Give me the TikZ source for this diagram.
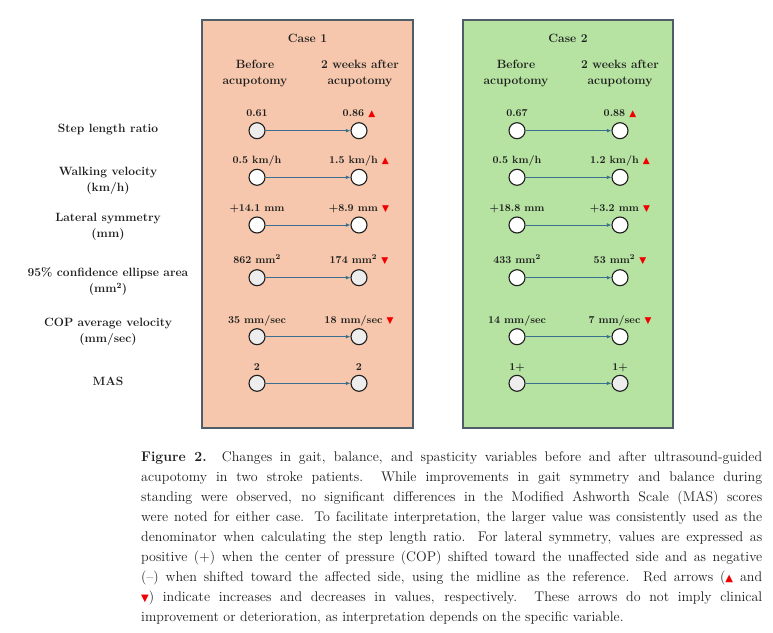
\documentclass[tikz,border=0pt]{standalone}
\usepackage{fontspec}
\newfontfamily\symf{DejaVu Sans}
\usetikzlibrary{arrows.meta}
\definecolor{peach}{HTML}{F6C7AC}
\definecolor{mint}{HTML}{B6E3A1}
\definecolor{framec}{HTML}{4F5D68}
\definecolor{arrc}{HTML}{3A6F8F}
\definecolor{cgray}{HTML}{EDEDED}
\definecolor{ink}{HTML}{1E1E1E}
\definecolor{trired}{HTML}{F00000}
\newcommand{\incr}{\hspace{0.4em}{\symf\fontsize{9}{9}\selectfont\color{trired}▲}}
\newcommand{\decr}{\hspace{0.4em}{\symf\fontsize{9}{9}\selectfont\color{trired}▼}}
\newcommand{\captri}[1]{{\symf\fontsize{10}{10}\selectfont\color{trired}#1}}
\begin{document}
\begin{tikzpicture}[x=1pt,y=-1pt,
  panel/.style={draw=framec,line width=1.5pt},
  dot/.style={circle,draw=ink,line width=1.1pt,minimum size=16pt,inner sep=0pt},
  wdot/.style={dot,fill=white},
  gdot/.style={dot,fill=cgray},
  link/.style={draw=arrc,line width=0.9pt,-{Latex[length=4.5pt,width=3.8pt]}},
  val/.style={font=\fontsize{10.5}{12}\selectfont\bfseries,text=ink,anchor=base,inner sep=0pt},
  hdr/.style={font=\fontsize{12}{16}\selectfont\bfseries,align=center,text=ink,inner sep=0pt},
  captext/.style={font=\fontsize{14}{20}\selectfont,anchor=base west,inner sep=0pt,text=ink}]
\useasboundingbox (0,0) rectangle (773,632);
\fill[white] (0,0) rectangle (773,632);
% panels
\path[panel,fill=peach] (202,20) rectangle (413,428);
\path[panel,fill=mint] (463,20) rectangle (673,428);
% headers
\node[hdr,anchor=base] (case1) at (307.5,42.6) {Case 1};
\node[hdr,anchor=base] (case2) at (568,42.6) {Case 2};
\node[hdr] (h1b) at (255,73.5) {Before\\acupotomy};
\node[hdr] (h1a) at (360,73.5) {2 weeks after\\acupotomy};
\node[hdr] (h2b) at (516,73.5) {Before\\acupotomy};
\node[hdr] (h2a) at (620,73.5) {2 weeks after\\acupotomy};
% row labels
\node[hdr,anchor=base] (l1) at (108,132.3) {Step length ratio};
\node[hdr] (l2) at (108,181) {Walking velocity\\(km/h)};
\node[hdr] (l3) at (108,226.5) {Lateral symmetry\\(mm)};
\node[hdr] (l4) at (108,281.5) {95\% confidence ellipse area\\(mm\textsuperscript{2})};
\node[hdr] (l5) at (108,332) {COP average velocity\\(mm/sec)};
\node[hdr,anchor=base] (l6) at (108,385) {MAS};
% case 1 circles
\node[gdot] (a1) at (257,130.7) {};
\node[wdot] (b1) at (359,130.7) {};
\node[wdot] (a2) at (257,177.3) {};
\node[wdot] (b2) at (359,177.3) {};
\node[wdot] (a3) at (257,225) {};
\node[wdot] (b3) at (359,225) {};
\node[gdot] (a4) at (257,277.7) {};
\node[gdot] (b4) at (359,277.7) {};
\node[gdot] (a5) at (257,336.7) {};
\node[gdot] (b5) at (359,336.7) {};
\node[gdot] (a6) at (257,383.3) {};
\node[gdot] (b6) at (359,383.3) {};
% case 2 circles
\node[wdot] (c1) at (517,130.7) {};
\node[wdot] (d1) at (620,130.7) {};
\node[wdot] (c2) at (517,177.3) {};
\node[wdot] (d2) at (620,177.3) {};
\node[wdot] (c3) at (517,225) {};
\node[wdot] (d3) at (620,225) {};
\node[wdot] (c4) at (517,277.7) {};
\node[wdot] (d4) at (620,277.7) {};
\node[wdot] (c5) at (517,336.7) {};
\node[wdot] (d5) at (620,336.7) {};
\node[gdot] (c6) at (517,383.3) {};
\node[gdot] (d6) at (620,383.3) {};
% connectors
\foreach \i in {1,...,6}{
  \draw[link] (a\i) -- (b\i);
  \draw[link] (c\i) -- (d\i);
}
% case 1 values
\node[val] (va1) at (257,116.4) {0.61};
\node[val] (vb1) at (359,116.4) {0.86\incr};
\node[val] (va2) at (257,163.4) {0.5 km/h};
\node[val] (vb2) at (359,163.4) {1.5 km/h\incr};
\node[val] (va3) at (257,211) {+14.1 mm};
\node[val] (vb3) at (359,211) {+8.9 mm\decr};
\node[val] (va4) at (257,263.7) {862 mm\textsuperscript{2}};
\node[val] (vb4) at (359,263.7) {174 mm\textsuperscript{2}\decr};
\node[val] (va5) at (257,323) {35 mm/sec};
\node[val] (vb5) at (359,323) {18 mm/sec\decr};
\node[val] (va6) at (257,370.4) {2};
\node[val] (vb6) at (359,370.4) {2};
% case 2 values
\node[val] (vc1) at (517,116.4) {0.67};
\node[val] (vd1) at (620,116.4) {0.88\incr};
\node[val] (vc2) at (517,163.4) {0.5 km/h};
\node[val] (vd2) at (620,163.4) {1.2 km/h\incr};
\node[val] (vc3) at (517,211) {+18.8 mm};
\node[val] (vd3) at (620,211) {+3.2 mm\decr};
\node[val] (vc4) at (517,263.7) {433 mm\textsuperscript{2}};
\node[val] (vd4) at (620,263.7) {53 mm\textsuperscript{2}\decr};
\node[val] (vc5) at (517,323) {14 mm/sec};
\node[val] (vd5) at (620,323) {7 mm/sec\decr};
\node[val] (vc6) at (517,370.4) {1+};
\node[val] (vd6) at (620,370.4) {1+};
% caption
\node[captext] (cap1) at (141,461) {\makebox[621pt][s]{\textbf{Figure 2.}\ \ Changes in gait, balance, and spasticity variables before and after ultrasound-guided}};
\node[captext] (cap2) at (141,481) {\makebox[621pt][s]{acupotomy in two stroke patients.\ \ While improvements in gait symmetry and balance during}};
\node[captext] (cap3) at (141,501) {\makebox[621pt][s]{standing were observed, no significant differences in the Modified Ashworth Scale (MAS) scores}};
\node[captext] (cap4) at (141,521) {\makebox[621pt][s]{were noted for either case. To facilitate interpretation, the larger value was consistently used as the}};
\node[captext] (cap5) at (141,541) {\makebox[621pt][s]{denominator when calculating the step length ratio. For lateral symmetry, values are expressed as}};
\node[captext] (cap6) at (141,561) {\makebox[621pt][s]{positive (+) when the center of pressure (COP) shifted toward the unaffected side and as negative}};
\node[captext] (cap7) at (141,581) {\makebox[621pt][s]{(--) when shifted toward the affected side, using the midline as the reference.\ \ Red arrows (\captri{▲} and}};
\node[captext] (cap8) at (141,601) {\makebox[621pt][s]{\captri{▼}) indicate increases and decreases in values, respectively.\ \ These arrows do not imply clinical}};
\node[captext] (cap9) at (141,621) {improvement or deterioration, as interpretation depends on the specific variable.};
\end{tikzpicture}
\end{document}
